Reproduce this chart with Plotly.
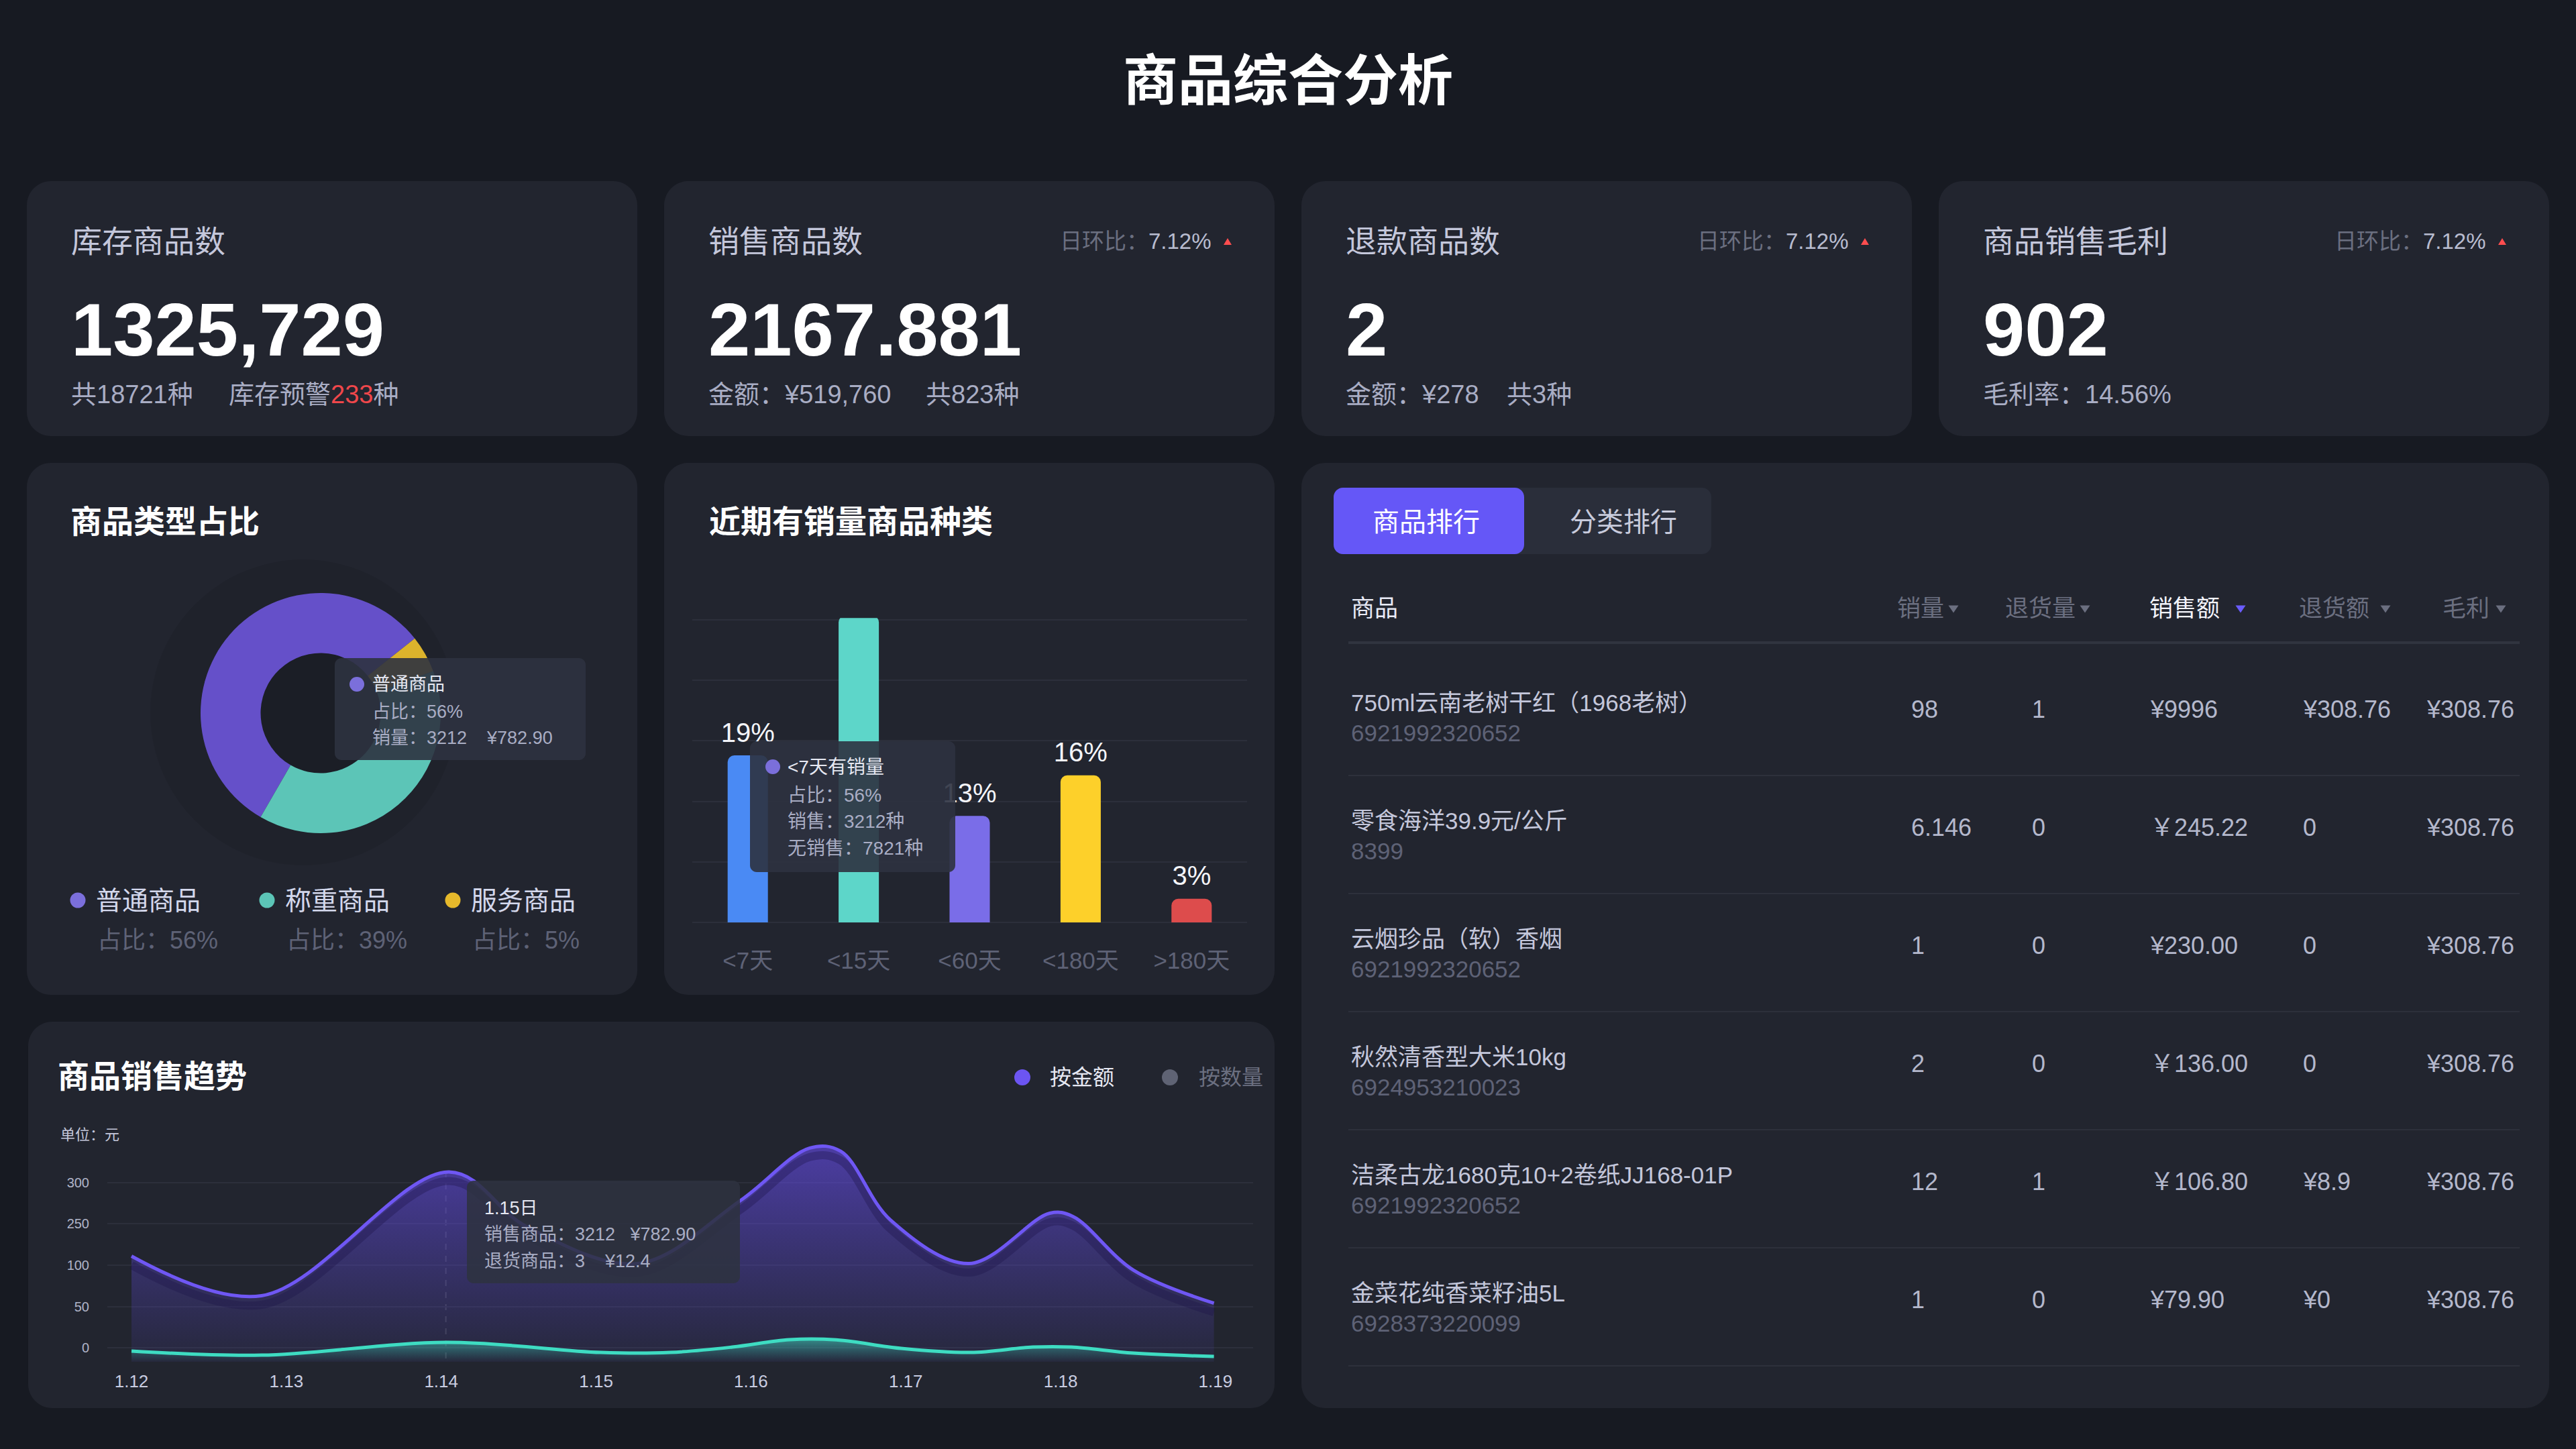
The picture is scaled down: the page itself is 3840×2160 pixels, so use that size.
import plotly.graph_objects as go

W, H = 3840, 2160
FONT = "Liberation Sans, Noto Sans CJK SC, sans-serif"
BG = "#171a22"
CARD = "#22252f"
GRID = "#2c2f3b"
WHITE = "#ffffff"
LIGHT = "#c4c7db"
SUB = "#a9adc4"
MUTED = "#5e6276"
DIM = "#6b6f80"
TIP = "rgba(46,50,64,0.9)"

# ---------------- data ----------------
page_title = "商品综合分析"

kpi_titles = ["库存商品数", "销售商品数", "退款商品数", "商品销售毛利"]
kpi_values = ["1325,729", "2167.881", "2", "902"]
kpi_change = [None, "7.12%", "7.12%", "7.12%"]
kpi_sub_main = ["共18721种", "金额：¥519,760", "金额：¥278", "毛利率：14.56%"]
kpi_sub_extra = ["库存预警", "共823种", "共3种", None]
stock_warning = "233"

pie_labels = ["普通商品", "服务商品", "称重商品"]
pie_values = [56, 5, 39]
pie_colors = ["#6550c9", "#dcb32c", "#5cc5b7"]
legend_names = ["普通商品", "称重商品", "服务商品"]
legend_pct = ["56%", "39%", "5%"]
legend_colors = ["#7b6fdb", "#5cc5b7", "#e6b92b"]

bar_cats = ["<7天", "<15天", "<60天", "<180天", ">180天"]
bar_labels = ["19%", "48%", "13%", "16%", "3%"]
bar_heights = [27.6, 50.7, 17.6, 24.3, 3.9]
bar_colors = ["#4a8af4", "#5dd6c9", "#7a6de8", "#fdd02a", "#dd4c4c"]

trend_tick_pos = [12, 13, 14, 15, 16, 17, 18, 19]
trend_ticks = ["1.12", "1.13", "1.14", "1.15", "1.16", "1.17", "1.18", "1.19"]
y_tick_vals = [0, 50, 100, 150, 200]
y_tick_text = ["0", "50", "100", "250", "300"]
amount_x = [12.0, 12.84, 14.05, 14.55, 15.27, 15.93, 16.38, 16.58, 16.9, 17.41, 17.93, 18.08, 18.47, 18.99]
amount_y = [111, 63, 213, 147, 102, 178, 242, 238, 155, 102, 163, 159, 94, 54]
qty_x = [12.0, 12.84, 14.04, 15.03, 15.48, 15.88, 16.25, 16.55, 16.97, 17.42, 17.82, 18.07, 18.47, 18.99]
qty_y = [-4, -9, 6.5, -5.7, -5.7, 0.8, 9.8, 9.6, -0.8, -5.7, 0.8, 0.8, -6.5, -10.6]
fill_floor = -17

table_tabs = ["商品排行", "分类排行"]
table_headers = ["商品", "销量", "退货量", "销售额", "退货额", "毛利"]
products = ["750ml云南老树干红（1968老树）", "零食海洋39.9元/公斤", "云烟珍品（软）香烟",
            "秋然清香型大米10kg", "洁柔古龙1680克10+2卷纸JJ168-01P", "金菜花纯香菜籽油5L"]
barcodes = ["6921992320652", "8399", "6921992320652", "6924953210023", "6921992320652", "6928373220099"]
sales_qty = ["98", "6.146", "1", "2", "12", "1"]
return_qty = ["1", "0", "0", "0", "1", "0"]
sales_amt = ["¥9996", "￥245.22", "¥230.00", "￥136.00", "￥106.80", "¥79.90"]
return_amt = ["¥308.76", "0", "0", "0", "¥8.9", "¥0"]
gross_profit = ["¥308.76", "¥308.76", "¥308.76", "¥308.76", "¥308.76", "¥308.76"]


# ---------------- helpers ----------------
def X(px):
    return px / W


def Y(py):
    return 1 - py / H


shapes = []
annots = []


def rr_path(x0, y0, x1, y1, r):
    c = 0.5523 * r
    P = lambda x, y: f"{X(x):.6f},{Y(y):.6f}"
    return (f"M {P(x0 + r, y0)} L {P(x1 - r, y0)} C {P(x1 - r + c, y0)} {P(x1, y0 + r - c)} {P(x1, y0 + r)} "
            f"L {P(x1, y1 - r)} C {P(x1, y1 - r + c)} {P(x1 - r + c, y1)} {P(x1 - r, y1)} "
            f"L {P(x0 + r, y1)} C {P(x0 + r - c, y1)} {P(x0, y1 - r + c)} {P(x0, y1 - r)} "
            f"L {P(x0, y0 + r)} C {P(x0, y0 + r - c)} {P(x0 + r - c, y0)} {P(x0 + r, y0)} Z")


def rect(x0, y0, x1, y1, r, fill, layer="below"):
    shapes.append(dict(type="path", path=rr_path(x0, y0, x1, y1, r), xref="paper", yref="paper",
                       fillcolor=fill, line=dict(width=0), layer=layer))


def circle(cx, cy, r, fill, layer="below"):
    shapes.append(dict(type="circle", xref="paper", yref="paper", x0=X(cx - r), x1=X(cx + r),
                       y0=Y(cy + r), y1=Y(cy - r), fillcolor=fill, line=dict(width=0), layer=layer))


def hline(x0, x1, y, color, width, layer="below"):
    shapes.append(dict(type="line", xref="paper", yref="paper", x0=X(x0), x1=X(x1), y0=Y(y), y1=Y(y),
                       line=dict(color=color, width=width), layer=layer))


def tri(cx, cy, w, h, color, up=True, layer="above"):
    if up:
        pts = [(cx - w / 2, cy + h / 2), (cx + w / 2, cy + h / 2), (cx, cy - h / 2)]
    else:
        pts = [(cx - w / 2, cy - h / 2), (cx + w / 2, cy - h / 2), (cx, cy + h / 2)]
    path = "M " + " L ".join(f"{X(a):.6f},{Y(b):.6f}" for a, b in pts) + " Z"
    shapes.append(dict(type="path", path=path, xref="paper", yref="paper", fillcolor=color,
                       line=dict(width=0), layer=layer))


def txt(x, y, s, size, color, anchor="left", weight="normal"):
    annots.append(dict(x=X(x), y=Y(y), xref="paper", yref="paper", text=s, showarrow=False,
                       xanchor=anchor, yanchor="middle",
                       font=dict(size=size, color=color, family=FONT, weight=weight)))


NB = "\u00a0"

# ---------------- page title ----------------
txt(1920, 121, page_title, 82, WHITE, anchor="center", weight="bold")

# ---------------- KPI cards ----------------
kpi_left = [40, 990, 1940, 2890]
kpi_w = 910
extra_offset = [299, 388, 304, 0]
for i in range(4):
    x0 = kpi_left[i]
    x1 = x0 + kpi_w
    rect(x0, 270, x1, 650, 36, CARD)
    tx = x0 + 64
    txt(tx, 360, kpi_titles[i], 46, LIGHT)
    txt(tx, 492, kpi_values[i], 112, WHITE, weight="bold")
    txt(tx, 588, kpi_sub_main[i], 38, SUB)
    if kpi_sub_extra[i]:
        s = kpi_sub_extra[i]
        if i == 0:
            s = s + f"<span style='color:#f0474b'>{stock_warning}</span>种"
        txt(x0 + extra_offset[i], 588, s, 38, SUB)
    if kpi_change[i]:
        txt(x1 - 92, 360, f"<span style='color:{DIM}'>日环比：</span>{kpi_change[i]}", 33, "#b8bccf", anchor="right")
        tri(x1 - 70, 360, 12, 10, "#ff4d4f", up=True)

# ---------------- donut card ----------------
rect(40, 690, 950, 1483, 36, CARD)
txt(103, 777, "商品类型占比", 47, WHITE, weight="bold")
circle(452, 1062, 228, "rgba(0,0,0,0.07)")
circle(478, 1063, 90, "#1b1e26")

fig = go.Figure()
fig.add_trace(go.Pie(labels=pie_labels, values=pie_values, hole=0.5, sort=False, direction="clockwise",
                     rotation=210, marker=dict(colors=pie_colors, line=dict(width=0)), textinfo="none",
                     hoverinfo="skip", showlegend=False,
                     domain=dict(x=[X(299), X(657)], y=[Y(1242), Y(884)])))

leg_dot_x = [116, 398, 675]
for i in range(3):
    circle(leg_dot_x[i], 1342, 11.5, legend_colors[i])
    txt(leg_dot_x[i] + 25, 1342, legend_names[i], 39, "#d4d8ec")
    txt(leg_dot_x[i] + 27, 1401, f"占比：{legend_pct[i]}", 36, MUTED)

# donut tooltip
rect(499, 981, 873, 1133, 10, TIP, layer="above")
circle(532, 1020, 11, "#7b6fdb", layer="above")
txt(553, 1020, pie_labels[0], 27, "#e6e8f2")
txt(553, 1061, f"占比：{pie_values[0]}%", 27, SUB)
txt(553, 1100, f"销量：3212{NB*4}¥782.90", 27, SUB)

# ---------------- bar card ----------------
rect(990, 690, 1900, 1483, 36, CARD)
txt(1055, 777, "近期有销量商品种类", 47, WHITE, weight="bold")

fig.add_trace(go.Bar(x=bar_cats, y=bar_heights, width=0.363,
                     marker=dict(color=bar_colors, cornerradius=10, line=dict(width=0)),
                     hoverinfo="skip", xaxis="x", yaxis="y", showlegend=False))
fig.add_trace(go.Scatter(x=bar_cats, y=bar_heights, mode="markers+text", text=bar_labels,
                         textposition="top center", marker=dict(size=15, color="rgba(0,0,0,0)"),
                         textfont=dict(size=40, color="#f4f5fa", family=FONT), hoverinfo="skip",
                         xaxis="x", yaxis="y", showlegend=False, cliponaxis=False))

# bar tooltip
rect(1118, 1105, 1424, 1300, 10, TIP, layer="above")
circle(1152, 1143, 11, "#7b6fdb", layer="above")
txt(1172, 1143, "<7天有销量", 28, "#e6e8f2")
txt(1172, 1185, "占比：56%", 28, SUB)
txt(1172, 1224, "销售：3212种", 28, SUB)
txt(1172, 1264, "无销售：7821种", 28, SUB)

# ---------------- trend card ----------------
rect(42, 1523, 1900, 2099, 36, CARD)
txt(84, 1604, "商品销售趋势", 47, WHITE, weight="bold")
circle(1524, 1606, 12, "#6c55f2")
txt(1563, 1606, "按金额", 32, "#e6e8f2")
circle(1744, 1606, 12, "#5f6374")
txt(1785, 1606, "按数量", 32, DIM)
txt(88, 1691, "单位：元", 22, LIGHT)

shapes.append(dict(type="line", xref="x2", yref="paper", x0=14.03, x1=14.03, y0=Y(2025), y1=Y(1740),
                   line=dict(color="rgba(255,255,255,0.13)", width=2, dash="dash"), layer="below"))

fx = [amount_x[0], amount_x[-1]]
fig.add_trace(go.Scatter(x=fx, y=[fill_floor, fill_floor], mode="lines", line=dict(width=0, color="rgba(0,0,0,0)"),
                         hoverinfo="skip", xaxis="x2", yaxis="y2", showlegend=False))
fig.add_trace(go.Scatter(x=amount_x, y=amount_y, mode="lines", line=dict(width=0, color="rgba(0,0,0,0)", shape="spline"),
                         fill="tonexty",
                         fillgradient=dict(type="vertical", start=fill_floor, stop=245,
                                           colorscale=[[0, "rgba(95,75,225,0.07)"], [1, "rgba(102,76,236,0.62)"]]),
                         hoverinfo="skip", xaxis="x2", yaxis="y2", showlegend=False))
fig.add_trace(go.Scatter(x=[qty_x[0], qty_x[-1]], y=[fill_floor, fill_floor], mode="lines",
                         line=dict(width=0, color="rgba(0,0,0,0)"),
                         hoverinfo="skip", xaxis="x2", yaxis="y2", showlegend=False))
fig.add_trace(go.Scatter(x=qty_x, y=qty_y, mode="lines", line=dict(width=0, color="rgba(0,0,0,0)", shape="spline"),
                         fill="tonexty",
                         fillgradient=dict(type="vertical", start=fill_floor, stop=10,
                                           colorscale=[[0, "rgba(50,190,170,0.0)"], [1, "rgba(62,215,190,0.55)"]]),
                         hoverinfo="skip", xaxis="x2", yaxis="y2", showlegend=False))
# shadow under the amount line
fig.add_trace(go.Scatter(x=amount_x, y=[v - 11 for v in amount_y], mode="lines",
                         line=dict(width=12, color="rgba(28,20,72,0.35)", shape="spline"),
                         hoverinfo="skip", xaxis="x2", yaxis="y2", showlegend=False))
fig.add_trace(go.Scatter(x=amount_x, y=amount_y, mode="lines",
                         line=dict(width=5, color="#6f57f4", shape="spline"),
                         hoverinfo="skip", xaxis="x2", yaxis="y2", showlegend=False))
fig.add_trace(go.Scatter(x=qty_x, y=qty_y, mode="lines",
                         line=dict(width=5, color="#3edcc2", shape="spline"),
                         hoverinfo="skip", xaxis="x2", yaxis="y2", showlegend=False))

# trend tooltip
rect(696, 1760, 1103, 1913, 10, "rgba(46,50,64,0.88)", layer="above")
txt(720, 1801, "1.15日", 27, "#e6e8f2")
txt(720, 1840, f"销售商品：3212{NB*3}¥782.90", 27, SUB)
txt(720, 1880, f"退货商品：3{NB*4}¥12.4", 27, SUB)

# ---------------- table card ----------------
rect(1940, 690, 3800, 2099, 36, CARD)
rect(1988, 727, 2551, 826, 14, "#2a2e3a")
rect(1988, 727, 2272, 826, 14, "#6557f7")
txt(2126, 778, table_tabs[0], 40, WHITE, anchor="center")
txt(2420, 778, table_tabs[1], 40, "#c8cbdc", anchor="center")

head_x = [2012, 2826, 2987, 3202, 3425, 3639]
head_tri = [None, 2912, 3108, 3340, 3556, 3728]
head_color = ["#e8eaf5", DIM, DIM, "#f2f3fa", DIM, DIM]
tri_color = [None, DIM, DIM, "#6a5cff", DIM, DIM]
for j, hname in enumerate(table_headers):
    txt(head_x[j], 906, hname, 35, head_color[j])
    if head_tri[j]:
        tri(head_tri[j], 908, 15, 11, tri_color[j], up=False)
hline(2010, 3756, 958, "#30343f", 4)

col_x = [2847, 3027, 3203, 3431, 3615]
for i in range(len(products)):
    vy = 1057 + 176 * i
    txt(2012, vy - 10, products[i], 35, LIGHT)
    txt(2012, vy + 35, barcodes[i], 35, MUTED)
    row_vals = [sales_qty[i], return_qty[i], sales_amt[i], return_amt[i], gross_profit[i]]
    for j, v in enumerate(row_vals):
        txt(col_x[j], vy, v, 36, "#b4b8cc")
    hline(2010, 3756, vy + 99, "#2d303b", 2)

# ---------------- layout ----------------
fig.update_layout(
    width=W, height=H, margin=dict(l=0, r=0, t=0, b=0, pad=0),
    paper_bgcolor=BG, plot_bgcolor="rgba(0,0,0,0)", showlegend=False,
    shapes=shapes, annotations=annots, hovermode=False,
    font=dict(family=FONT),
    xaxis=dict(domain=[X(1032), X(1859)], range=[-0.5, 4.5], showgrid=False, zeroline=False, showline=False,
               ticks="", tickfont=dict(size=35, color=MUTED, family=FONT), ticklabelstandoff=30,
               fixedrange=True, anchor="y"),
    yaxis=dict(domain=[Y(1377.7), Y(921.3)], range=[-0.3, 50.3], dtick=10, tick0=0, showgrid=True,
               gridcolor=GRID, gridwidth=2, zeroline=False, showticklabels=False, ticks="", showline=False,
               fixedrange=True, anchor="x"),
    xaxis2=dict(domain=[X(160), X(1868)], range=[11.844, 19.243], tickvals=trend_tick_pos, ticktext=trend_ticks,
                anchor="y2", showgrid=False, zeroline=False, showline=False, ticks="",
                tickfont=dict(size=26, color="#c8cce0", family=FONT), ticklabelstandoff=6, fixedrange=True),
    yaxis2=dict(domain=[Y(2035), Y(1690)], range=[-21.1, 259.3], tickvals=y_tick_vals, ticktext=y_tick_text,
                anchor="x2", showgrid=True, gridcolor=GRID, gridwidth=2, zeroline=False, showline=False, ticks="",
                tickfont=dict(size=20, color="#b0b4c8", family=FONT), ticklabelstandoff=26, fixedrange=True),
)

fig.write_html("out.html", config={"displayModeBar": False})
